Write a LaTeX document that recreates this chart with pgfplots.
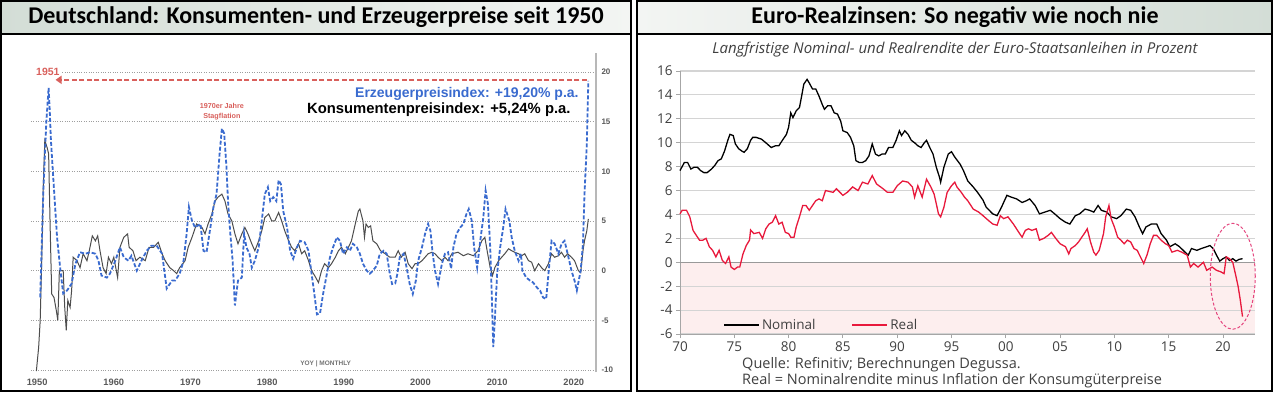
\documentclass[border=0pt]{standalone}
\usepackage{fontspec}
\setmainfont{Liberation Sans}
\newfontfamily\calibri{Carlito}
\newfontfamily\opensans{Open Sans}
\usepackage{pgfplots}
\pgfplotsset{compat=1.18}
\usetikzlibrary{arrows.meta}
\definecolor{ppiblue}{HTML}{3A6BCF}
\definecolor{cpigray}{HTML}{4D4D4D}
\definecolor{annred}{HTML}{D9605C}
\definecolor{realred}{HTML}{E8193C}
\definecolor{pinkbg}{HTML}{FDEEEE}
\definecolor{titleA}{HTML}{D3DDD6}
\definecolor{titleB}{HTML}{F3F5F3}
\definecolor{ellc}{HTML}{E5457E}
\definecolor{txtgray}{HTML}{404040}

\pgfplotstableread{
x y
1950.4 -2.7
1950.8 7.7
1951.2 15
1951.5 18.4
1951.65 16
1951.8 13.1
1952.1 9.4
1952.6 3.35
1953.0 0.3
1953.4 -2.3
1953.9 -2.0
1954.5 -1.3
1955.0 0.7
1955.6 1.85
1956.3 1.7
1956.9 1.85
1957.6 1.7
1958.0 1.0
1958.4 -0.5
1959.1 -0.7
1959.5 -0.3
1960.2 1.0
1960.8 2.35
1961.3 1.35
1961.9 1.0
1962.3 1.5
1963.0 0
1963.6 1.0
1964.3 2.0
1964.9 2.5
1965.6 2.5
1966.3 1.7
1966.9 -1.8
1967.6 -1.0
1968.0 -1.0
1968.6 -0.3
1969.1 1.0
1969.5 3.7
1969.8 6.4
1970.2 5.0
1970.6 4.35
1971.3 4.7
1971.7 2.0
1972.1 1.85
1972.6 4.35
1973.0 6.4
1973.4 7.7
1973.8 11.75
1974.1 14.3
1974.4 13.8
1974.7 10.4
1974.9 7.0
1975.2 3.7
1975.5 1.0
1975.8 -3.5
1976.2 -1.0
1976.7 -0.7
1977.0 3.7
1977.3 2.35
1977.7 1.7
1978.0 0.3
1978.4 1.0
1978.9 2.35
1979.3 5.0
1979.7 7.7
1980.1 8.4
1980.4 7.0
1980.8 7.4
1981.2 7.0
1981.5 9.1
1981.8 8.7
1982.1 6.0
1982.6 4.35
1983.0 2.0
1983.4 1.2
1983.9 2.35
1984.3 3.0
1984.9 2.85
1985.4 2.0
1985.8 -0.3
1986.1 -2.0
1986.5 -4.4
1986.9 -4.3
1987.3 -2.35
1987.8 -0.3
1988.2 1.35
1988.6 2.35
1989.1 3.35
1989.5 3.0
1989.9 1.7
1990.4 2.35
1990.8 2.0
1991.2 2.7
1991.7 2.35
1992.1 1.7
1992.5 0.7
1993.0 0
1993.4 -0.3
1993.8 0
1994.3 0.5
1994.7 1.7
1995.2 2.0
1995.6 1.7
1996.0 -0.3
1996.3 -1.35
1996.7 -1.3
1997.0 -0.3
1997.3 1.35
1997.8 1.7
1998.2 0.3
1998.6 -1.35
1999.0 -2.35
1999.4 -1.0
1999.7 1.0
2000.2 2.35
2000.6 3.7
2001.0 4.7
2001.3 4.0
2001.6 1.7
2001.9 0
2002.3 -1.35
2002.8 0.7
2003.2 1.7
2003.6 1.85
2004.0 0.2
2004.3 2.35
2004.7 3.7
2005.2 4.35
2005.6 4.7
2006.0 5.7
2006.3 6.2
2006.7 5.0
2007.0 2.35
2007.4 0.3
2007.8 3.0
2008.2 5.35
2008.5 8.05
2008.8 6.7
2009.1 2.35
2009.3 -2.35
2009.5 -7.7
2009.7 -5.0
2010.0 -0.3
2010.4 2.35
2010.8 4.35
2011.1 6.2
2011.6 5.0
2011.9 3.35
2012.3 2.0
2012.8 1.0
2013.1 1.7
2013.3 0
2013.8 -0.7
2014.3 -1.0
2014.7 -1.2
2015.2 -1.7
2015.6 -2.0
2016.0 -2.7
2016.4 -2.85
2016.7 -0.3
2017.1 3.0
2017.5 2.7
2018.0 1.7
2018.4 2.7
2018.8 3.0
2019.2 1.7
2019.7 0
2020.1 -1.0
2020.4 -2.0
2020.9 0
2021.2 2.7
2021.4 7.7
2021.7 12.75
2021.9 19.1
}\ppidata

\pgfplotstableread{
x y
1949.9 -10.1
1950.2 -7.7
1950.4 -5
1950.6 1.0
1950.8 8.4
1951.0 13.1
1951.3 12.4
1951.5 11.75
1951.7 4.35
1951.9 -2.35
1952.2 -2.7
1952.5 -4.0
1952.7 -5.0
1952.9 0
1953.4 0
1953.6 -3.7
1953.8 -6.0
1954.0 -3.0
1954.3 -3.7
1954.5 -2.0
1954.7 1.35
1955.2 1.0
1955.6 0.3
1956.0 1.7
1956.5 1.0
1956.8 2.0
1957.2 3.5
1957.6 3.0
1957.9 3.5
1958.2 2.0
1958.6 0.3
1959.0 -0.3
1959.3 1.35
1959.7 0.7
1960.0 1.35
1960.5 -0.7
1960.8 2.35
1961.3 3.35
1961.8 3.7
1962.0 2.35
1962.5 2.0
1962.9 1.0
1963.4 1.35
1964.1 1.0
1964.6 2.35
1965.2 2.35
1965.8 2.85
1966.3 1.7
1966.7 1.0
1967.3 0.3
1967.8 0
1968.2 -0.3
1968.6 0.3
1969.3 1.0
1969.7 2.35
1970.2 3.35
1970.8 4.7
1971.5 4.35
1971.9 3.7
1972.3 4.7
1972.8 5.7
1973.2 7.0
1973.6 7.4
1974.1 7.7
1974.5 7.0
1974.9 5.7
1975.4 5.0
1975.8 3.7
1976.2 2.7
1976.7 3.7
1977.1 4.35
1977.5 3.7
1978.0 2.7
1978.4 2.0
1978.9 3.0
1979.3 4.0
1979.7 5.35
1980.2 5.7
1980.6 5.0
1981.0 5.0
1981.5 5.85
1981.9 5.0
1982.3 4.0
1982.8 3.0
1983.2 2.35
1983.6 2.0
1984.1 2.7
1984.5 1.7
1984.9 2.0
1985.4 1.0
1985.8 0
1986.2 -0.5
1986.7 -1.2
1987.1 0
1987.5 0.7
1988.0 0.3
1988.4 0.7
1988.9 1.35
1989.3 2.0
1989.7 2.35
1990.2 1.7
1990.6 2.35
1991.0 3.0
1991.5 4.7
1991.9 6.0
1992.1 6.2
1992.5 5.0
1992.7 3.35
1992.9 4.7
1993.2 4.35
1993.5 4.5
1993.8 3.0
1994.3 2.7
1994.8 2.0
1995.4 1.7
1996.0 1.35
1996.7 1.35
1997.1 2.0
1997.5 1.35
1998.0 1.85
1998.4 0.7
1998.9 0.2
1999.3 0.7
1999.7 0.7
2000.2 1.0
2000.6 1.35
2001.0 1.7
2001.5 1.85
2001.9 1.7
2002.3 1.35
2002.8 1.0
2003.2 1.35
2003.6 1.0
2004.1 1.7
2004.9 1.85
2005.6 1.5
2006.2 1.7
2006.9 1.5
2007.5 2.0
2008.0 3.0
2008.4 3.35
2008.7 2.0
2009.1 0.3
2009.4 -0.5
2009.7 0.3
2010.2 1.0
2010.6 1.35
2011.0 1.7
2011.5 2.2
2011.9 2.0
2012.3 1.85
2012.8 1.7
2013.2 1.5
2013.6 1.7
2014.1 1.0
2014.5 0.85
2014.9 0
2015.4 0.7
2015.8 0.3
2016.2 0
2016.7 0.7
2017.1 1.7
2017.5 1.35
2018.0 1.5
2018.4 1.85
2018.8 1.35
2019.2 1.7
2019.7 1.35
2020.1 1.0
2020.6 0
2020.9 -0.2
2021.2 2.0
2021.4 3.0
2021.7 4.0
2021.9 5.2
}\cpidata

\pgfplotstableread{
x y
1970.0 7.67
1970.4 8.35
1970.7 8.35
1971.0 7.8
1971.3 7.95
1971.6 7.95
1971.9 7.67
1972.2 7.5
1972.5 7.5
1972.9 7.8
1973.2 8.1
1973.5 8.5
1973.8 8.65
1974.1 9.3
1974.4 10.2
1974.6 10.7
1974.9 10.6
1975.1 9.9
1975.4 9.5
1975.7 9.3
1975.9 9.2
1976.2 9.5
1976.5 10.2
1976.7 10.45
1977.0 10.45
1977.5 10.3
1977.9 10.0
1978.4 9.6
1978.8 9.75
1979.1 9.75
1979.5 10.3
1979.8 10.7
1980.0 11.3
1980.2 12.5
1980.4 12.1
1980.7 12.67
1981.0 12.95
1981.2 13.9
1981.4 14.9
1981.7 15.3
1981.9 15.0
1982.2 14.5
1982.5 14.5
1982.8 13.9
1983.1 13.2
1983.3 12.8
1983.6 13.1
1983.9 13.1
1984.2 12.5
1984.5 12.4
1984.8 11.8
1985.0 11.0
1985.4 10.85
1985.7 10.45
1986.0 9.75
1986.2 8.5
1986.5 8.35
1986.8 8.35
1987.1 8.5
1987.4 8.9
1987.7 9.9
1988.0 9.05
1988.3 8.9
1988.6 9.05
1988.9 9.05
1989.2 9.6
1989.6 9.6
1989.9 10.2
1990.2 11.0
1990.4 10.6
1990.7 11.0
1991.0 10.7
1991.3 10.2
1991.6 10.0
1991.9 9.75
1992.2 9.6
1992.5 10.0
1992.7 10.2
1993.0 9.6
1993.3 9.05
1993.6 7.95
1993.9 7.1
1994.0 6.7
1994.3 7.95
1994.7 9.05
1995.0 9.25
1995.3 8.8
1995.8 8.2
1996.1 7.67
1996.5 6.8
1997.0 6.3
1997.4 5.85
1997.9 5.2
1998.2 4.6
1998.8 4.05
1999.2 3.9
1999.6 4.6
2000.1 5.6
2000.5 5.45
2001.0 5.3
2001.5 5.0
2001.9 5.15
2002.2 5.3
2002.7 4.75
2003.1 4.05
2003.6 4.2
2004.1 4.35
2004.5 4.05
2005.0 3.65
2005.5 3.35
2005.9 3.2
2006.4 3.9
2006.8 4.05
2007.3 4.45
2007.7 4.35
2008.1 4.2
2008.5 4.75
2008.8 4.35
2009.3 4.2
2009.7 3.8
2010.2 3.65
2010.6 3.9
2011.1 4.45
2011.5 4.35
2011.9 3.8
2012.3 2.95
2012.6 2.4
2012.9 2.95
2013.4 3.2
2013.9 3.2
2014.3 2.4
2014.8 1.85
2015.1 1.3
2015.6 1.55
2016.0 1.3
2016.5 0.85
2016.8 0.6
2017.1 1.15
2017.6 1.0
2018.0 1.15
2018.5 1.3
2018.8 1.4
2019.1 1.15
2019.4 0.6
2019.7 0.1
2020.0 0.3
2020.3 0.45
2020.6 0.15
2020.9 0.3
2021.2 0.1
2021.5 0.25
2021.8 0.3
}\nomdata

\pgfplotstableread{
x y
1970.0 4.05
1970.2 4.35
1970.6 4.35
1970.9 3.8
1971.2 2.67
1971.5 2.25
1971.8 1.85
1972.1 1.85
1972.4 2.0
1972.7 1.3
1973.0 1.0
1973.3 0.45
1973.6 1.0
1973.9 0.15
1974.2 -0.1
1974.5 0.45
1974.7 -0.4
1975.0 -0.6
1975.3 -0.4
1975.5 -0.4
1975.8 0.7
1976.1 1.4
1976.4 1.85
1976.5 2.7
1976.8 2.4
1977.3 2.5
1977.6 2.0
1977.9 2.8
1978.2 3.2
1978.5 3.35
1978.8 3.9
1979.1 3.2
1979.4 3.35
1979.7 2.5
1980.0 2.4
1980.2 2.1
1980.5 2.1
1980.7 2.95
1981.0 3.8
1981.3 4.75
1981.6 4.75
1981.9 4.35
1982.2 4.75
1982.5 5.15
1982.8 5.3
1983.1 5.15
1983.4 6.0
1984.1 5.85
1984.4 6.15
1985.0 5.6
1985.4 5.85
1985.9 6.3
1986.4 6.0
1986.8 6.7
1987.3 6.55
1987.7 7.25
1988.1 6.55
1988.7 6.15
1989.1 5.85
1989.6 5.85
1990.0 6.4
1990.5 6.8
1991.0 6.7
1991.4 6.3
1991.6 5.45
1991.9 6.4
1992.3 5.45
1992.7 6.95
1993.1 6.3
1993.4 5.7
1993.6 4.9
1993.8 4.05
1994.0 3.8
1994.3 4.6
1994.6 5.85
1995.0 6.4
1995.3 6.7
1995.5 6.3
1995.9 5.85
1996.2 5.45
1996.5 5.15
1997.0 4.45
1997.5 4.2
1997.9 3.9
1998.4 3.5
1998.8 3.2
1999.2 3.1
1999.5 3.9
1999.8 3.65
2000.2 3.8
2000.7 3.2
2001.2 2.5
2001.5 2.1
2001.8 2.67
2002.1 2.8
2002.4 2.67
2002.8 2.8
2003.1 1.85
2003.5 2.0
2003.9 2.25
2004.2 2.5
2004.6 2.0
2005.0 1.55
2005.5 1.3
2005.8 0.7
2006.0 1.15
2006.4 1.4
2006.7 1.7
2007.0 2.1
2007.3 2.5
2007.5 2.8
2007.8 1.7
2008.1 0.85
2008.3 0.6
2008.6 1.0
2009.0 2.4
2009.2 3.8
2009.5 4.75
2009.7 3.65
2010.0 2.95
2010.3 2.1
2010.6 1.85
2010.9 1.55
2011.2 1.85
2011.5 1.7
2011.8 1.15
2012.1 1.0
2012.4 0.45
2012.7 -0.1
2013.0 0.6
2013.3 1.55
2013.6 2.25
2013.9 2.25
2014.3 1.85
2014.7 1.55
2015.0 1.4
2015.3 0.85
2015.8 1.0
2016.2 0.85
2016.7 0.6
2017.0 -0.4
2017.3 -0.1
2017.7 -0.4
2018.2 0.0
2018.5 -0.67
2019.0 -0.4
2019.4 -0.67
2019.8 -0.8
2020.1 -0.95
2020.3 0.45
2020.6 0.3
2020.9 0.0
2021.2 -1.2
2021.4 -2.05
2021.6 -3.2
2021.8 -4.55
}\realdata

\begin{document}
\begin{tikzpicture}
\useasboundingbox (0pt,0pt) rectangle (1273pt,-392pt);
\fill[white] (0pt,0pt) rectangle (1273pt,-392pt);
% title bars
\shade[left color=titleA, right color=titleB] (1pt,-1pt) rectangle (631pt,-34pt);
\shade[left color=titleB, right color=titleA] (637pt,-1pt) rectangle (1272pt,-34pt);
\draw[black, line width=1.6pt] (0.8pt,-0.8pt) rectangle (631pt,-391.2pt);
\draw[black, line width=1.6pt] (636.8pt,-0.8pt) rectangle (1272.2pt,-391.2pt);
\draw[black, line width=1.3pt] (0.8pt,-34pt) -- (631pt,-34pt);
\draw[black, line width=1.3pt] (636.8pt,-34pt) -- (1272.2pt,-34pt);
\node[font=\calibri\bfseries\fontsize{24}{25}\selectfont] at (316pt,-17.5pt) {Deutschland: Konsumenten- und Erzeugerpreise seit 1950};
\node[font=\calibri\bfseries\fontsize{24}{25}\selectfont] at (955pt,-17.5pt) {Euro-Realzinsen: So negativ wie noch nie};
% right panel decorations
\fill[pinkbg] (680pt,-334pt) rectangle (1255pt,-262pt);
\node[font=\opensans\itshape\fontsize{15}{16}\selectfont, text=txtgray] at (955pt,-50pt) {Langfristige Nominal- und Realrendite der Euro-Staatsanleihen in Prozent};
\node[anchor=west, font=\opensans\fontsize{14.5}{15}\selectfont, text=txtgray, inner sep=0pt] at (742pt,-365pt) {Quelle: Refinitiv; Berechnungen Degussa.};
\node[anchor=west, font=\opensans\fontsize{14.5}{15}\selectfont, text=txtgray, inner sep=0pt] at (742pt,-381pt) {Real = Nominalrendite minus Inflation der Konsumgüterpreise};

% ---------------- left axis
\begin{axis}[
  at={(31pt,-372pt)}, anchor=south west, scale only axis,
  width=565pt, height=319pt,
  xmin=1949.2, xmax=2022.9, ymin=-10.2, ymax=21.9,
  axis x line*=bottom, axis y line*=right,
  x axis line style={draw=none},
  y axis line style={draw=black!28, line width=1.6pt},
  xtick={1950,1960,1970,1980,1990,2000,2010,2020},
  xticklabels={1950,1960,1970,1980,1990,2000,2010,2020},
  ytick={-10,-5,0,5,10,15,20},
  yticklabels={-10,-5,0,5,10,15,20},
  major tick length=0pt,
  ymajorgrids, grid style={dotted, black!38, line width=0.7pt},
  xticklabel style={font=\bfseries\fontsize{9.3}{10}\selectfont, text=black!65, yshift=-3pt},
  yticklabel style={font=\bfseries\fontsize{8}{9}\selectfont, text=black!65, xshift=2pt},
  clip=false,
]
\fill[white] (axis cs:1948.9,19.6) rectangle (axis cs:1953.1,20.4);
\addplot[color=cpigray, line width=1.0pt] table[x=x,y=y] {\cpidata};
\addplot[color=ppiblue, line width=1.8pt, dash pattern=on 4pt off 2pt] table[x=x,y=y] {\ppidata};
\draw[annred, line width=2.6pt, dash pattern=on 5pt off 2.5pt, -{Triangle[length=6pt,width=8pt]}] (axis cs:2021.7,19.2) -- (axis cs:1952.4,19.2);
\node[text=annred, font=\bfseries\fontsize{10.5}{11}\selectfont, inner sep=0pt] at (axis cs:1951.4,20.05) {1951};
\node[anchor=east, text=ppiblue, font=\bfseries\fontsize{14}{16}\selectfont, inner sep=0pt] at (axis cs:2020.66,17.75) {Erzeugerpreisindex: +19,20\% p.a.};
\node[anchor=east, text=black, font=\bfseries\fontsize{14.8}{16}\selectfont, inner sep=0pt] at (axis cs:2019.6,16.15) {Konsumentenpreisindex: +5,24\% p.a.};
\node[text=annred, font=\bfseries\fontsize{7.2}{10}\selectfont, align=center, inner sep=0pt] at (axis cs:1974.1,16.0) {1970er Jahre\\Stagflation};
\node[anchor=west, text=black!55, font=\bfseries\fontsize{6.5}{7}\selectfont, inner sep=0pt] at (axis cs:1984.3,-9.37) {YOY | MONTHLY};
\end{axis}

% ---------------- right axis
\begin{axis}[
  at={(680pt,-334pt)}, anchor=south west, scale only axis,
  width=575pt, height=263pt,
  xmin=1970, xmax=2022.95, ymin=-6, ymax=16,
  axis x line*=bottom, axis y line*=left,
  axis line style={draw=black!35, line width=0.9pt},
  xtick={1970,1975,1980,1985,1990,1995,2000,2005,2010,2015,2020},
  xticklabels={70,75,80,85,90,95,00,05,10,15,20},
  ytick={-6,-4,-2,0,2,4,6,8,10,12,14,16},
  yticklabels={-6,-4,-2,0,2,4,6,8,10,12,14,16},
  tick align=outside, major tick length=4pt,
  tick style={draw=black!35, line width=0.9pt},
  ymajorgrids, grid style={black!17, line width=1.1pt},
  ticklabel style={font=\opensans\fontsize{13.5}{14}\selectfont, text=txtgray},
  legend style={at={(0.0748,0.034)}, anchor=west, draw=none, fill=none, inner sep=0pt,
    font=\opensans\fontsize{13.5}{14}\selectfont, text=txtgray,
    legend columns=2, /tikz/every even column/.append style={column sep=34pt},
    nodes={inner sep=2pt}},
  legend image code/.code={\draw[#1, line width=1.8pt] (0pt,0pt) -- (35pt,0pt);},
  clip=false,
]
\draw[black!40, line width=1.1pt] (axis cs:1970,0) -- (axis cs:2022.95,0);
\addplot[color=black, line width=1.3pt] table[x=x,y=y] {\nomdata};
\addplot[color=realred, line width=1.3pt] table[x=x,y=y] {\realdata};
\legend{Nominal,Real}
\draw[ellc, line width=1pt, dash pattern=on 3pt off 2pt] (axis cs:2020.9,-1.17) ellipse [x radius=22.5pt, y radius=53pt];
\end{axis}
\end{tikzpicture}
\end{document}
